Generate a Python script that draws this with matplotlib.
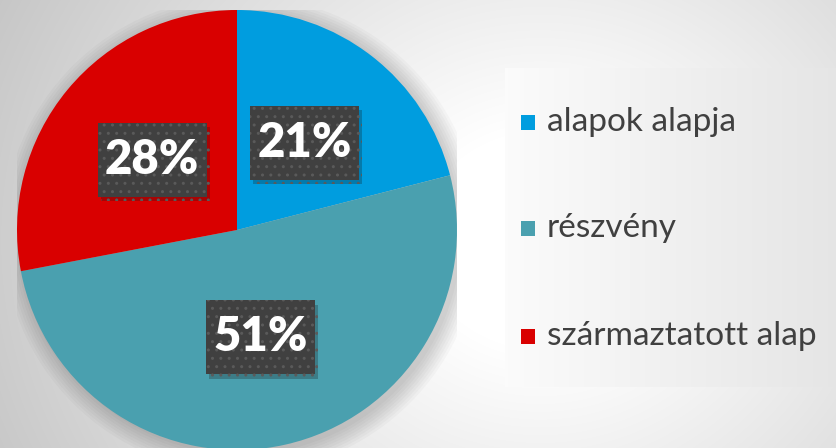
import numpy as np
import matplotlib
matplotlib.use("Agg")
import matplotlib.pyplot as plt
import matplotlib.patheffects as pe
from matplotlib.patches import Rectangle, Circle

labels = ["alapok alapja", "részvény", "származtatott alap"]
values = [21, 51, 28]
colors = ["#009ddf", "#4aa0af", "#d90000"]

W, H = 836, 448
fig = plt.figure(figsize=(W / 100, H / 100), dpi=100)

# background: soft radial gradient, white in the middle, grey at the edges
bg = fig.add_axes([0, 0, 1, 1])
yy, xx = np.mgrid[0:H, 0:W]
d = np.hypot(xx - 540, (yy - 240) * 1.1)
shade = 1 - 0.22 * np.clip((d - 120) / 480, 0, 1)
bg.imshow(np.dstack([shade] * 3), extent=[0, W, 0, H], origin="upper", aspect="auto")
bg.set_xlim(0, W)
bg.set_ylim(0, H)
bg.axis("off")

# legend box with its own light gradient
lx0, lx1, ly0, ly1 = 505, 836, 61, 380
lg = np.linspace(0.985, 0.90, 200)
bg.imshow(np.dstack([np.tile(lg, (10, 1))] * 3), extent=[lx0, lx1, ly0, ly1],
          aspect="auto", zorder=2)

# pie (radius 220 px -> 1 data unit)
R_PX = 220
ax = fig.add_axes([17 / W, -2 / H, 440 / W, 440 / H])
# blurred shadow under the pie
for k in range(8):
    ax.add_patch(Circle((0.02, -0.02), 1.0 + 0.012 * k, facecolor="black",
                        alpha=0.025, linewidth=0, zorder=0))
wedges, texts = ax.pie(values, colors=colors, startangle=90, counterclock=False,
                       labels=[f"{v}%" for v in values], labeldistance=0.5,
                       wedgeprops=dict(linewidth=0))
for w in wedges:
    w.set_zorder(1)
bw, bh = 109 / R_PX, 74 / R_PX
for t in texts:
    x, y = t.get_position()
    t.set_ha("center")
    t.set_va("center")
    t.set_fontfamily("Lato")
    t.set_fontweight("heavy")
    t.set_fontsize(34)
    t.set_color("white")
    t.set_zorder(4)
    box = Rectangle((x - bw / 2, y - bh / 2), bw, bh, facecolor="#404040",
                    edgecolor="#5a5a5a", linewidth=0, hatch="..", zorder=3)
    box.set_path_effects([pe.SimplePatchShadow(offset=(2, -3), alpha=0.25), pe.Normal()])
    ax.add_patch(box)
ax.set_xlim(-1, 1)
ax.set_ylim(-1, 1)
ax.set_aspect("equal")
ax.axis("off")

# legend entries
rows_y = [H - 122, H - 228, H - 336]
for lab, col, y in zip(labels, colors, rows_y):
    bg.add_patch(Rectangle((521, y - 8), 14, 15, facecolor=col, edgecolor="none", zorder=3))
    bg.text(547, y, lab, fontsize=24, family="Lato", color="#404040",
            va="center", ha="left", zorder=3)

fig.savefig("out.png", dpi=100)
